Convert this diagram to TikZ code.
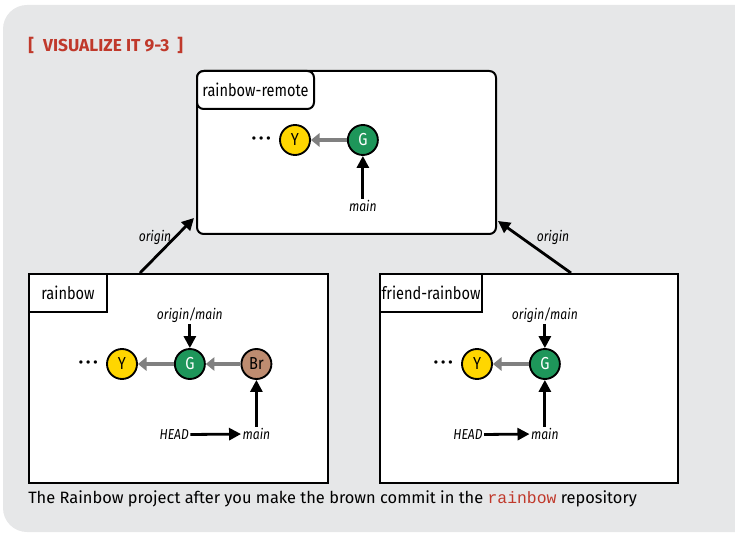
\documentclass[tikz,border=0pt]{standalone}
\usepackage{fontspec}
\setmainfont{Fira Sans}
\setmonofont{Liberation Mono}
\newfontfamily\narrowfont{Fira Sans}[FakeStretch=0.84]
\usepackage{tikz}
\usetikzlibrary{arrows.meta, positioning}

\definecolor{panelgray}{RGB}{230,231,232}
\definecolor{titlered}{RGB}{192,57,43}
\definecolor{commityellow}{RGB}{255,214,0}
\definecolor{commitgreen}{RGB}{30,150,90}
\definecolor{commitbrown}{RGB}{190,140,112}
\definecolor{parentgray}{RGB}{128,128,128}

\begin{document}
\begin{tikzpicture}[
  x=0.75pt, y=-0.75pt,
  node distance=27pt,
  repo/.style={draw, line width=1.5pt, fill=white, anchor=north west, inner sep=0pt},
  tab/.style={draw, line width=1.5pt, fill=white, anchor=north west, minimum height=28.5pt,
    inner sep=0pt, font=\narrowfont\fontsize{13}{15}\selectfont},
  commit/.style={circle, draw, line width=1.4pt, minimum size=22.5pt, inner sep=0pt,
    font=\narrowfont\fontsize{13}{15}\selectfont},
  ref/.style={inner sep=1pt, font=\narrowfont\itshape\fontsize{10.8}{12}\selectfont},
  dots/.style={inner sep=0pt, font=\fontsize{11}{11}\selectfont},
  parent/.style={draw=parentgray, line width=3pt, -{Triangle[length=6.5pt, width=10pt]}},
  arr/.style={line width=2.1pt, -{Triangle[length=9pt, width=9pt]}},
]
\useasboundingbox (0,0) rectangle (735,538);
% panel
\fill[panelgray, rounded corners=18pt] (3,5) rectangle (780,532);
\node[anchor=west, inner sep=0pt, text=titlered, font=\bfseries\fontsize{13}{15}\selectfont] (title)
  at (28,45) {[\hspace{7pt}VISUALIZE IT 9-3\hspace{6pt}]};

% repositories
\node[repo, rounded corners=5pt, minimum width=224.25pt, minimum height=122.25pt] (remote) at (196,70) {};
\node[tab, rounded corners=5pt, minimum width=87.75pt] (remotetab) at (remote.north west) {rainbow-remote};
\node[repo, minimum width=224.25pt, minimum height=156.75pt] (rainbow) at (28,273) {};
\node[tab, minimum width=58.5pt] (rainbowtab) at (rainbow.north west) {rainbow};
\node[repo, minimum width=223.5pt, minimum height=156.75pt] (friend) at (379,273) {};
\node[tab, minimum width=76.5pt] (friendtab) at (friend.north west) {friend-rainbow};

% rainbow-remote
\node[commit, fill=commityellow] (rY) at (295,140) {Y};
\node[commit, fill=commitgreen, text=white, right=of rY] (rG) {G};
\node[dots, left=6pt of rY] (rdots) {\textbullet\,\textbullet\,\textbullet};
\node[ref, below=32pt of rG] (rmain) {main};
\draw[parent] (rG) -- (rY);
\draw[arr] (rmain) -- (rG);

% rainbow
\node[commit, fill=commityellow] (aY) at (122,364) {Y};
\node[commit, fill=commitgreen, text=white, right=of aY] (aG) {G};
\node[commit, fill=commitbrown, right=26pt of aG] (aBr) {Br};
\node[dots, left=6pt of aY] (adots) {\textbullet\,\textbullet\,\textbullet};
\node[ref, above=18pt of aG] (aorigin) {origin/main};
\node[ref, below=35pt of aBr] (amain) {main};
\node[ref, left=38pt of amain.south west, anchor=south east] (ahead) {HEAD};
\draw[parent] (aG) -- (aY);
\draw[parent] (aBr) -- (aG);
\draw[arr] (aorigin) -- (aG);
\draw[arr] (amain) -- (aBr);
\draw[arr] (ahead) -- (amain);

% friend-rainbow
\node[commit, fill=commityellow] (fY) at (477,364) {Y};
\node[commit, fill=commitgreen, text=white, right=of fY] (fG) {G};
\node[dots, left=6pt of fY] (fdots) {\textbullet\,\textbullet\,\textbullet};
\node[ref, above=18pt of fG] (forigin) {origin/main};
\node[ref, below=35pt of fG] (fmain) {main};
\node[ref, left=34pt of fmain.south west, anchor=south east] (fhead) {HEAD};
\draw[parent] (fG) -- (fY);
\draw[arr] (forigin) -- (fG);
\draw[arr] (fmain) -- (fG);
\draw[arr] (fhead) -- (fmain);

% remotes
\coordinate (atail) at (140,273);
\coordinate (atip) at (194,218);
\coordinate (ftail) at (571,273);
\coordinate (ftip) at (498,221);
\draw[arr] (atail) -- (atip);
\draw[arr] (ftail) -- (ftip);
\node[ref] (aremote) at (155,237) {origin};
\node[ref] (fremote) at (553,237) {origin};

% caption
\node[anchor=west, inner sep=0pt, font=\fontsize{12.3}{14}\selectfont] (caption) at (28,499)
  {The Rainbow project after you make the brown commit in the \textcolor{titlered}{\texttt{rainbow}} repository};
\end{tikzpicture}
\end{document}
